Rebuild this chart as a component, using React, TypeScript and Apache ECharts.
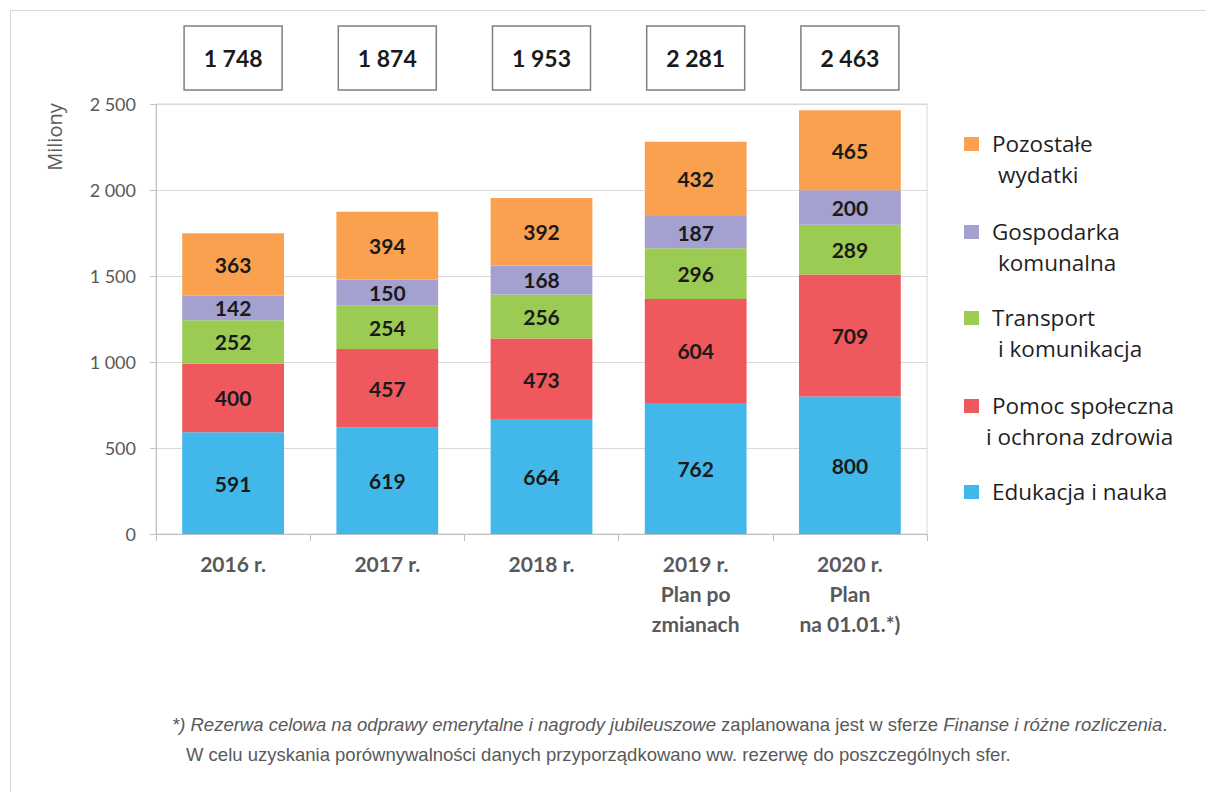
import React, { useEffect, useRef } from "react";
import * as echarts from "echarts";

const categories = ["2016 r.", "2017 r.", "2018 r.", "2019 r.\nPlan po\nzmianach", "2020 r.\nPlan\nna 01.01.*)"];
const edukacja = [591, 619, 664, 762, 800];
const pomoc = [400, 457, 473, 604, 709];
const transport = [252, 254, 256, 296, 289];
const gospodarka = [142, 150, 168, 187, 200];
const pozostale = [363, 394, 392, 432, 465];
const totals = [1748, 1874, 1953, 2281, 2463];
const yTicks = [0, 500, 1000, 1500, 2000, 2500];

const seriesDefs = [
  { name: "Edukacja i nauka", data: edukacja, color: "#41B8E9" },
  { name: "Pomoc społeczna\ni ochrona zdrowia", data: pomoc, color: "#EF585C" },
  { name: "Transport\ni komunikacja", data: transport, color: "#9BCB53" },
  { name: "Gospodarka\nkomunalna", data: gospodarka, color: "#A4A0D0" },
  { name: "Pozostałe\nwydatki", data: pozostale, color: "#F9A14F" },
];

const fmt = (n: number) => String(n).replace(/\B(?=(\d{3})+(?!\d))/g, " ");

export default function App() {
  const ref = useRef<HTMLDivElement>(null);
  useEffect(() => {
    if (!ref.current) return;
    const chart = echarts.init(ref.current, null, { renderer: "svg" });
    const chartFont = "Lato";

    const legendOrder = [...seriesDefs].reverse();
    const legendFirstY = [143, 231, 317, 405, 491];
    const secondLineX = [998, 998, 998, 986];
    const legendChildren: any[] = [];
    legendOrder.forEach((s, i) => {
      const lines = s.name.split("\n");
      const y0 = legendFirstY[i];
      legendChildren.push({
        type: "rect",
        shape: { x: 964, y: y0 - 6, width: 15, height: 14 },
        style: { fill: s.color },
      });
      lines.forEach((ln, j) => {
        legendChildren.push({
          type: "text",
          x: j === 0 ? 992 : secondLineX[i],
          y: y0 + j * 31,
          style: {
            text: ln,
            font: "22.5px 'Open Sans'",
            fill: "#1f1f1f",
            align: "left",
            verticalAlign: "middle",
          },
        });
      });
    });

    const footBase = { fontFamily: "'Liberation Sans', Arial", fontSize: 18.5, fill: "#595959", color: "#595959" };

    const option: any = {
      animation: false,
      backgroundColor: "#ffffff",
      grid: { left: 156, right: 279, top: 104, bottom: 258, show: true, borderColor: "#D9D9D9", borderWidth: 1 },
      xAxis: {
        type: "category",
        data: categories,
        axisLine: { lineStyle: { color: "#BFBFBF" } },
        axisTick: { show: true, length: 7, lineStyle: { color: "#BFBFBF" } },
        axisLabel: {
          margin: 14,
          fontFamily: chartFont,
          fontWeight: "bold",
          fontSize: 21,
          lineHeight: 30,
          color: "#595959",
          align: "center",
        },
      },
      yAxis: {
        type: "value",
        min: 0,
        max: 2500,
        interval: 500,
        axisLine: { show: true, lineStyle: { color: "#BFBFBF" } },
        axisTick: { show: true, length: 6, lineStyle: { color: "#BFBFBF" } },
        splitLine: { lineStyle: { color: "#D9D9D9" } },
        axisLabel: {
          margin: 20,
          fontFamily: chartFont,
          fontSize: 18,
          color: "#595959",
          formatter: (v: number) => (yTicks.includes(v) ? fmt(v) : ""),
        },
      },
      series: [
        ...seriesDefs.map((s) => ({
          name: s.name,
          type: "bar",
          stack: "total",
          barWidth: "66%",
          data: s.data,
          itemStyle: { color: s.color },
          label: {
            show: true,
            position: "inside",
            fontFamily: chartFont,
            fontWeight: "bold",
            fontSize: 21,
            color: "#1a1a1a",
          },
        })),
        {
          type: "custom",
          name: "Razem",
          z: 10,
          clip: false,
          data: totals.map((t, i) => [i, t]),
          renderItem: (params: any, api: any) => {
            const x = api.coord([api.value(0), 0])[0];
            const v = api.value(1);
            return {
              type: "group",
              children: [
                {
                  type: "rect",
                  shape: { x: x - 49, y: 26, width: 98, height: 64 },
                  style: { fill: "#ffffff", stroke: "#7F7F7F", lineWidth: 1.5 },
                },
                {
                  type: "text",
                  x: x,
                  y: 58,
                  style: {
                    text: fmt(v),
                    font: `bold 23px ${chartFont}`,
                    fill: "#1a1a1a",
                    align: "center",
                    verticalAlign: "middle",
                  },
                },
              ],
            };
          },
        },
      ],
      graphic: [
        { type: "line", shape: { x1: 10, y1: 10.5, x2: 1206, y2: 10.5 }, style: { stroke: "#D9D9D9", lineWidth: 1 } },
        { type: "line", shape: { x1: 10.5, y1: 10, x2: 10.5, y2: 792 }, style: { stroke: "#D9D9D9", lineWidth: 1 } },
        {
          type: "text",
          x: 54,
          y: 137,
          rotation: Math.PI / 2,
          style: { text: "Miliony", font: "20px 'Open Sans'", fill: "#595959", align: "center", verticalAlign: "middle" },
        },
        { type: "group", children: legendChildren },
        {
          type: "text",
          x: 172,
          y: 724,
          style: {
            text: "{i|*) Rezerwa celowa na odprawy emerytalne i nagrody jubileuszowe}{n| zaplanowana jest w sferze }{i|Finanse i różne rozliczenia}{n|.}",
            verticalAlign: "middle",
            align: "left",
            rich: {
              i: { ...footBase, fontStyle: "italic" },
              n: { ...footBase },
            },
          },
        },
        {
          type: "text",
          x: 186,
          y: 754,
          style: {
            text: "W celu uzyskania porównywalności danych przyporządkowano ww. rezerwę do poszczególnych sfer.",
            font: "18.5px 'Liberation Sans', Arial",
            fill: "#595959",
            align: "left",
            verticalAlign: "middle",
          },
        },
      ],
    };
    chart.setOption(option);
    return () => chart.dispose();
  }, []);
  return <div ref={ref} style={{ position: "fixed", left: 0, top: 0, width: 1206, height: 792 }} />;
}
